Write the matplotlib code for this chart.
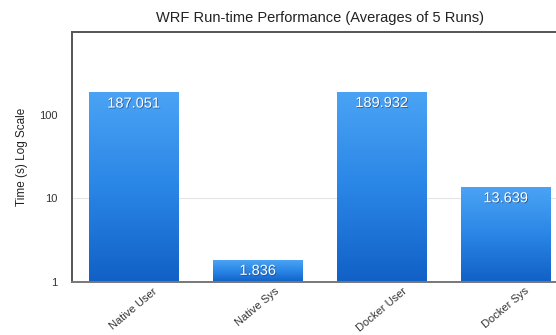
import numpy as np
import matplotlib
matplotlib.use('Agg')
import matplotlib.pyplot as plt
import matplotlib.patheffects as pe
from matplotlib.colors import LinearSegmentedColormap

categories = ['Native User', 'Native Sys', 'Docker User', 'Docker Sys']
times = [187.051, 1.836, 189.932, 13.639]
value_labels = ['187.051', '1.836', '189.932', '13.639']
y_ticks = [1, 10, 100]
y_tick_labels = ['1', '10', '100']

plt.rcParams['font.family'] = ['Liberation Sans', 'DejaVu Sans']

fig = plt.figure(figsize=(5.56, 3.35), dpi=100)
# plot area runs past the right edge of the picture, like the cropped original
ax = fig.add_axes([0.129, 0.159, 0.892, 0.746])
ax.set_yscale('log')

x = np.arange(len(categories))
bars = ax.bar(x, [t - 1 for t in times], bottom=1, width=0.72, color='none', zorder=2)

ax.set_xlim(-0.5, len(categories) - 0.5)
ax.set_ylim(1, 1000)

# vertical blue gradient inside each bar
grad_cmap = LinearSegmentedColormap.from_list('bar_grad', ['#1160c6', '#2a86e6', '#4aa3f4'])
gradient = np.linspace(0, 1, 256).reshape(-1, 1)
to_axes = ax.transData + ax.transAxes.inverted()
for bar in bars:
    bb = bar.get_bbox()
    (x0, y0), (x1, y1) = to_axes.transform([(bb.x0, bb.y0), (bb.x1, bb.y1)])
    img = ax.imshow(gradient, cmap=grad_cmap, origin='lower', aspect='auto',
                    extent=[x0, x1, y0, y1], transform=ax.transAxes, zorder=2)
    img.set_clip_path(bar)
ax.set_xlim(-0.5, len(categories) - 0.5)
ax.set_ylim(1, 1000)

ax.axhline(10, color='#e4e4e4', linewidth=0.8, zorder=1)

for xi, t, lab in zip(x, times, value_labels):
    ax.annotate(lab, (xi, t), xytext=(0, -8), textcoords='offset points',
                ha='center', va='center', color='white', fontsize=10.5, zorder=3,
                path_effects=[pe.withSimplePatchShadow(offset=(0.6, -0.6),
                                                       shadow_rgbFace='#1d3f78', alpha=0.7)])

ax.set_yticks(y_ticks)
ax.set_yticklabels(y_tick_labels)
ax.yaxis.set_minor_locator(matplotlib.ticker.NullLocator())
ax.tick_params(axis='y', length=0, pad=10, labelsize=8, labelcolor='#333333')
ax.set_xticks(x)
ax.set_xticklabels(categories, rotation=40, ha='center')
ax.tick_params(axis='x', length=0, pad=3, labelsize=8, labelcolor='#333333')

ax.set_ylabel('Time (s) Log Scale', fontsize=8.5, color='#222222', labelpad=8)
ax.set_title('WRF Run-time Performance (Averages of 5 Runs)', fontsize=10.5,
             color='#222222', pad=7)

ax.spines['right'].set_visible(False)
ax.spines['left'].set_color('#555555')
ax.spines['top'].set_color('#555555')
ax.spines['bottom'].set_color('#777777')
for s in ['left', 'top', 'bottom']:
    ax.spines[s].set_linewidth(1.4)

plt.savefig('out.png', dpi=100)
